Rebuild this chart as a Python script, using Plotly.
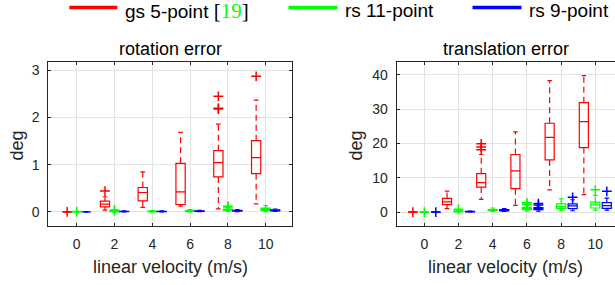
import plotly.graph_objects as go

# ---------------- data ----------------
velocities = [0, 2, 4, 6, 8, 10]
tick_labels = ["0", "2", "4", "6", "8", "10"]
series_names = ["gs 5-point", "rs 11-point", "rs 9-point"]
series_colors = ["#ff0000", "#00ff00", "#0000ff"]
titles = ["rotation error", "translation error"]
x_label = "linear velocity (m/s)"
y_label = "deg"

# rotation error (deg)
rot_gs_q1 = [0, 0.106, 0.233, 0.156, 0.74, 0.81]
rot_gs_med = [0, 0.163, 0.41, 0.423, 1.044, 1.15]
rot_gs_q3 = [0, 0.226, 0.516, 1.03, 1.298, 1.51]
rot_gs_lo = [0, 0.036, 0.093, 0.12, 0.063, 0.17]
rot_gs_hi = [0, 0.32, 0.846, 1.685, 1.86, 2.37]
rot_gs_out = [[0.0], [0.44], [], [], [2.18, 2.2, 2.45], [2.875]]

rot_rs11_q1 = [0, 0.005, 0.005, 0.01, 0.03, 0.03]
rot_rs11_med = [0, 0.01, 0.01, 0.02, 0.045, 0.05]
rot_rs11_q3 = [0, 0.015, 0.015, 0.03, 0.06, 0.08]
rot_rs11_lo = [0, 0, 0, 0, 0.01, 0.005]
rot_rs11_hi = [0, 0.03, 0.025, 0.05, 0.09, 0.13]
rot_rs11_out = [[0.005], [0.02, 0.04], [], [], [0.1, 0.12], []]

rot_rs9_q1 = [0, 0.005, 0.005, 0.01, 0.015, 0.02]
rot_rs9_med = [0, 0.008, 0.008, 0.015, 0.02, 0.03]
rot_rs9_q3 = [0, 0.012, 0.012, 0.02, 0.03, 0.04]
rot_rs9_lo = [0, 0, 0, 0.005, 0.005, 0.01]
rot_rs9_hi = [0, 0.02, 0.02, 0.03, 0.045, 0.06]
rot_rs9_out = [[], [], [], [], [], []]

# translation error (deg)
tra_gs_q1 = [0, 2.2, 7.3, 6.84, 15.2, 18.8]
tra_gs_med = [0, 3.0, 8.6, 12.0, 21.8, 26.4]
tra_gs_q3 = [0, 4.0, 11.2, 16.8, 25.9, 31.9]
tra_gs_lo = [0, 1.0, 3.7, 1.96, 6.5, 5.1]
tra_gs_hi = [0, 6.1, 16.8, 23.4, 38.3, 39.8]
tra_gs_out = [[0.0], [], [18.2, 19.0, 19.9], [], [], []]

tra_rs11_q1 = [0, 0.15, 0.4, 0.7, 1.0, 1.2]
tra_rs11_med = [0, 0.25, 0.55, 1.0, 1.6, 2.1]
tra_rs11_q3 = [0, 0.35, 0.75, 1.4, 2.4, 2.9]
tra_rs11_lo = [0, 0.05, 0.2, 0.3, 0.4, 0.6]
tra_rs11_hi = [0, 0.6, 1.2, 2.0, 3.9, 4.9]
tra_rs11_out = [[0.0], [0.8], [], [2.3, 2.7], [], [6.5]]

tra_rs9_q1 = [0, 0.1, 0.35, 0.7, 1.0, 1.1]
tra_rs9_med = [0, 0.15, 0.5, 0.9, 1.8, 1.9]
tra_rs9_q3 = [0, 0.2, 0.7, 1.3, 2.4, 2.75]
tra_rs9_lo = [0, 0.05, 0.2, 0.3, 0.4, 0.6]
tra_rs9_hi = [0, 0.3, 1.0, 1.8, 3.6, 4.1]
tra_rs9_out = [[0.0], [], [], [2.1, 2.5], [4.3], [6.05]]

rotation = [
    (rot_gs_q1, rot_gs_med, rot_gs_q3, rot_gs_lo, rot_gs_hi, rot_gs_out),
    (rot_rs11_q1, rot_rs11_med, rot_rs11_q3, rot_rs11_lo, rot_rs11_hi, rot_rs11_out),
    (rot_rs9_q1, rot_rs9_med, rot_rs9_q3, rot_rs9_lo, rot_rs9_hi, rot_rs9_out),
]
translation = [
    (tra_gs_q1, tra_gs_med, tra_gs_q3, tra_gs_lo, tra_gs_hi, tra_gs_out),
    (tra_rs11_q1, tra_rs11_med, tra_rs11_q3, tra_rs11_lo, tra_rs11_hi, tra_rs11_out),
    (tra_rs9_q1, tra_rs9_med, tra_rs9_q3, tra_rs9_lo, tra_rs9_hi, tra_rs9_out),
]

# ---------------- layout constants ----------------
W, H = 615, 285
FONT = "Liberation Sans, Arial, Helvetica, sans-serif"
AX = "#262626"
GRID = "#e3e3e3"


def px(x):
    return x / W


def py(y):
    return 1 - y / H


fig = go.Figure()

panels = [
    dict(data=rotation, xa="x", ya="y", offset=0.503, bw=0.49),
    dict(data=translation, xa="x2", ya="y2", offset=0.672, bw=0.53),
]

for p in panels:
    for si, (q1, med, q3, lo, hi, out) in enumerate(p["data"]):
        col = series_colors[si]
        xs = [v + (si - 1) * p["offset"] for v in velocities]
        # boxes
        fig.add_trace(go.Box(
            x=xs, q1=q1, median=med, q3=q3, lowerfence=q1, upperfence=q3,
            width=p["bw"], whiskerwidth=0, boxpoints=False,
            line=dict(color=col, width=1.2), fillcolor="rgba(0,0,0,0)",
            xaxis=p["xa"], yaxis=p["ya"], showlegend=False, hoverinfo="skip",
        ))
        # dashed whiskers
        wx, wy = [], []
        for x, a, b, c, d in zip(xs, q1, q3, lo, hi):
            wx += [x, x, None, x, x, None]
            wy += [b, d, None, a, c, None]
        fig.add_trace(go.Scatter(
            x=wx, y=wy, mode="lines", line=dict(color=col, width=1.2, dash="6px,4px"),
            xaxis=p["xa"], yaxis=p["ya"], showlegend=False, hoverinfo="skip",
        ))
        # caps
        cx, cy = [], []
        hw = p["bw"] / 4
        for x, c, d in zip(xs, lo, hi):
            cx += [x - hw, x + hw, None, x - hw, x + hw, None]
            cy += [c, c, None, d, d, None]
        fig.add_trace(go.Scatter(
            x=cx, y=cy, mode="lines", line=dict(color=col, width=1.2),
            xaxis=p["xa"], yaxis=p["ya"], showlegend=False, hoverinfo="skip",
        ))
        # outliers
        ox, oy = [], []
        for x, o in zip(xs, out):
            ox += [x] * len(o)
            oy += o
        fig.add_trace(go.Scatter(
            x=ox, y=oy, mode="markers",
            marker=dict(symbol="cross-thin", size=7, line=dict(color=col, width=1.5)),
            xaxis=p["xa"], yaxis=p["ya"], showlegend=False, hoverinfo="skip",
        ))

axis_common = dict(
    showline=True, linecolor=AX, linewidth=1, ticks="inside", ticklen=3,
    tickcolor=AX, tickwidth=1, showgrid=True, gridcolor=GRID, gridwidth=1,
    zeroline=False, tickfont=dict(family=FONT, size=14, color=AX),
)

y_top, y_bot = 61.5, 225.5
fig.update_layout(
    width=W, height=H, margin=dict(l=0, r=0, t=0, b=0),
    paper_bgcolor="white", plot_bgcolor="white", boxmode="overlay",
    xaxis=dict(axis_common, domain=[px(48.3), px(292.3)], range=[-1.502, 11.41],
               tickvals=velocities, ticktext=tick_labels, mirror="ticks",
               anchor="y", ticklabelstandoff=6),
    yaxis=dict(axis_common, domain=[py(y_bot), py(y_top)], range=[-0.29, 3.19],
               tickvals=[0, 1, 2, 3], mirror="ticks", anchor="x",
               ticklabelstandoff=5),
    xaxis2=dict(axis_common, domain=[px(396.7), 1.0], range=[-1.614, 11.15],
                tickvals=velocities, ticktext=tick_labels, mirror="ticks",
                anchor="y2", ticklabelstandoff=6),
    yaxis2=dict(axis_common, domain=[py(y_bot), py(y_top)], range=[-3.9, 43.9],
                tickvals=[0, 10, 20, 30, 40], mirror=False, anchor="x2",
                ticklabelstandoff=5),
)

annotations = []
shapes = []
# titles, axis labels
for cx, title, ylx in [((48.3 + 292.3) / 2, titles[0], 16.7), ((396.7 + 615) / 2, titles[1], 355.8)]:
    annotations.append(dict(x=px(cx), y=py(48.7), xref="paper", yref="paper", text=title,
                            showarrow=False, xanchor="center", yanchor="middle",
                            font=dict(family=FONT, size=18, color="#000000")))
    annotations.append(dict(x=px(cx), y=py(267), xref="paper", yref="paper", text=x_label,
                            showarrow=False, xanchor="center", yanchor="middle",
                            font=dict(family=FONT, size=18, color=AX)))
    annotations.append(dict(x=px(ylx), y=py(145.7), xref="paper", yref="paper", text=y_label,
                            showarrow=False, xanchor="center", yanchor="middle", textangle=-90,
                            font=dict(family=FONT, size=18, color=AX)))

# legend
legend_lines = [(69.3, 117.3), (288.5, 337.5), (472.5, 521.5)]
legend_texts = [
    series_names[0] + ' <span style="font-family:Liberation Serif, Times New Roman, serif;font-size:21px">[<span style="color:#00ff00">19</span>]</span>',
    series_names[1],
    series_names[2],
]
for (x0, x1), col, txt in zip(legend_lines, series_colors, legend_texts):
    shapes.append(dict(type="line", xref="paper", yref="paper", x0=px(x0), x1=px(x1),
                       y0=py(7.5), y1=py(7.5), line=dict(color=col, width=3.5)))
    annotations.append(dict(x=px(x1 + 5.5), y=py(10.5), xref="paper", yref="paper", text=txt,
                            showarrow=False, xanchor="left", yanchor="middle",
                            font=dict(family=FONT, size=19, color="#000000")))

fig.update_layout(annotations=annotations, shapes=shapes)
fig.write_html(
    "out.html",
    config={"staticPlot": True, "displayModeBar": False},
    post_script="document.body.style.margin='0';document.body.style.overflow='hidden';",
)
